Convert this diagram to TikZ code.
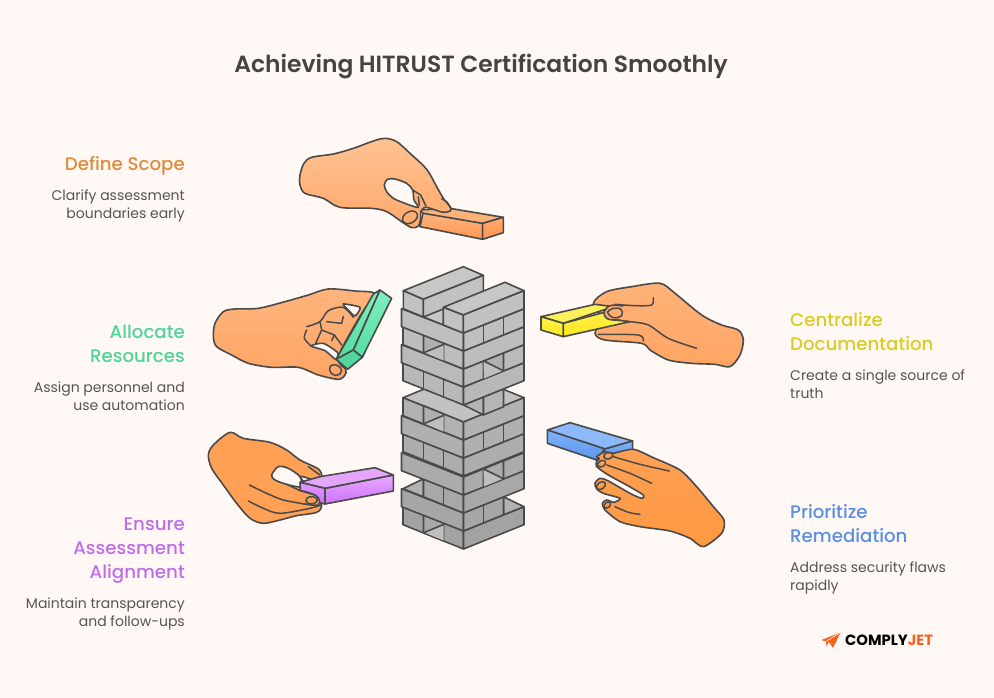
\documentclass[tikz,border=0pt]{standalone}
\usepackage{fontspec}
\setmainfont{Poppins}
\newfontfamily\titlefam{Poppins SemiBold}
\newfontfamily\headfam{Poppins Medium}
\definecolor{bgc}{HTML}{FFF8F4}
\definecolor{ink}{HTML}{4A4A4A}
\definecolor{titlec}{HTML}{444444}
\definecolor{descc}{HTML}{555555}
\definecolor{cOrange}{HTML}{E08A3E}
\definecolor{cGreen}{HTML}{4FD49C}
\definecolor{cPurple}{HTML}{C26CE8}
\definecolor{cYellow}{HTML}{DCCB22}
\definecolor{cBlue}{HTML}{5A8FE2}
\definecolor{logoO}{HTML}{F4631E}
\definecolor{orA}{HTML}{FEB680}
\definecolor{orB}{HTML}{FF9650}
\definecolor{orT}{HTML}{FDB27A}
\definecolor{orC}{HTML}{FFAA6E}
\definecolor{skinA}{HTML}{FFC292}
\definecolor{skinB}{HTML}{FFA86A}
\definecolor{skinC}{HTML}{FFB47D}
\definecolor{skinD}{HTML}{FFA564}
\definecolor{skinE}{HTML}{FFA055}
\definecolor{skinF}{HTML}{FFB278}
\definecolor{skinG}{HTML}{FFAC6E}
\definecolor{skinH}{HTML}{FF9841}
\definecolor{grA}{HTML}{80F0C0}
\definecolor{grB}{HTML}{55DCA5}
\definecolor{grC}{HTML}{50D7A0}
\definecolor{puA}{HTML}{E8AAFF}
\definecolor{puB}{HTML}{CD70FF}
\definecolor{puC}{HTML}{E4A5FA}
\definecolor{puD}{HTML}{E19BFF}
\definecolor{yeA}{HTML}{FFF046}
\definecolor{yeB}{HTML}{FFE81E}
\definecolor{yeC}{HTML}{FFF05A}
\definecolor{blA}{HTML}{82B2FA}
\definecolor{blB}{HTML}{5A96F0}
\definecolor{blC}{HTML}{8CB9FA}
\tikzset{
  edgeln/.style={draw=ink,line width=1.6pt,line join=round,line cap=round},
  detail/.style={draw=ink,line width=1.5pt,line join=round,line cap=round},
  headl/.style={inner sep=0pt,font=\headfam\fontsize{18.2}{24}\selectfont},
  descl/.style={inner sep=0pt,text=descc,font=\fontsize{14}{18}\selectfont},
  zoomed/.style={x=0.33333pt,y=-0.33333pt},
  hole/.style={edgeln,fill=bgc}
}
% left face, right face: #1 front top y, #2 shade
\newcommand{\leftBand}[2]{\filldraw[edgeln,fill=black!#2] (401.5,{#1-24.3}) -- (463.5,#1) -- (463.5,{#1+18}) -- (401.5,{#1-6.3}) -- cycle;}
\newcommand{\rightBand}[2]{\filldraw[edgeln,fill=black!#2] (463.5,#1) -- (524,{#1-24.3}) -- (524,{#1-6.3}) -- (463.5,{#1+18}) -- cycle;}
\newcommand{\leftEnds}[2]{\filldraw[edgeln,fill=black!#2] (403,{#1-24.3}) -- (463.5,#1) -- (463.5,{#1+18}) -- (403,{#1-6.3}) -- cycle;
  \draw[edgeln] (423.5,{#1-16.2}) -- ++(0,18) (443.5,{#1-8.1}) -- ++(0,18);}
\newcommand{\rightEnds}[2]{\filldraw[edgeln,fill=black!#2] (463.5,#1) -- (524,{#1-24.3}) -- (524,{#1-6.3}) -- (463.5,{#1+18}) -- cycle;
  \draw[edgeln] (483.5,{#1-8.1}) -- ++(0,18) (503.5,{#1-16.2}) -- ++(0,18);}
\newcommand{\leftGap}[2]{\filldraw[edgeln,fill=black!#2] (423.5,{#1-16.2}) -- (443.5,{#1-8.1}) -- (443.5,{#1+9.9}) -- (423.5,{#1+1.8}) -- cycle;
  \fill[black!25] (423.5,{#1+1.2}) -- (443.5,{#1-6.5}) -- (443.5,{#1+9.5}) -- cycle;
  \draw[edgeln] (423.5,{#1+1.8}) -- (443.5,{#1-6.5});}
\newcommand{\rightGap}[2]{\filldraw[edgeln,fill=black!#2] (483.5,{#1-8.1}) -- (503.5,{#1-16.2}) -- (503.5,{#1+1.8}) -- (483.5,{#1+9.9}) -- cycle;
  \fill[black!25] (483.5,{#1-7.5}) -- (503.5,{#1+1.5}) -- (484,{#1+9.5}) -- cycle;
  \draw[edgeln] (483.5,{#1-8.1}) -- (503.5,{#1+1.8});}
\begin{document}
\begin{tikzpicture}[x=1pt,y=-1pt]
\useasboundingbox (0,0) rectangle (994,698);
\fill[bgc] (0,0) rectangle (994,698);

% ---------- tower, bottom to top
% M
\leftEnds{531}{36}\leftGap{531}{34}
\rightBand{531}{36}
% L (right third absent, its top visible)
\filldraw[edgeln,fill=black!30] (503.5,496.8) -- (524,506.7) -- (503.5,514.8) -- cycle;
\leftBand{513}{35}
\filldraw[edgeln,fill=black!35] (463.5,513) -- (503.5,496.8) -- (503.5,514.8) -- (463.5,531) -- cycle;
\draw[edgeln] (483.5,504.9) -- ++(0,18);
% K (left third absent)
\filldraw[edgeln,fill=black!30] (403,488.7) -- (423.5,478.8) -- (423.5,496.8) -- cycle;
\filldraw[edgeln,fill=black!34] (423.5,478.8) -- (463.5,495) -- (463.5,513) -- (423.5,496.8) -- cycle;
\draw[edgeln] (443.5,486.9) -- ++(0,18);
\rightBand{495}{34}
% J
\leftBand{477}{33}
\rightEnds{477}{33}\rightGap{477}{33}
% I
\leftEnds{458}{32}
\rightBand{458}{32}
% H
\leftBand{440}{31}
\rightEnds{440}{31}
% G
\filldraw[edgeln,fill=black!24] (403,397.7) -- (463.5,373) -- (524,397.7) -- (463.5,422) -- cycle;
\leftEnds{422}{30}\leftGap{422}{31}
\rightBand{422}{30}
% F (recessed)
\filldraw[edgeln,fill=black!29] (463.5,405) -- (483.5,396.9) -- (483.5,414.9) -- cycle;
\filldraw[edgeln,fill=black!29] (483.5,396.9) -- (503.5,388.8) -- (503.5,406.8) -- (483.5,414.9) -- cycle;
% E
\leftEnds{387}{28}
\rightBand{387}{28}
% D
\leftBand{369}{27}
\rightEnds{369}{27}\rightGap{369}{31}
% C
\leftEnds{351}{26}\leftGap{351}{31}
\rightBand{351}{26}
% B
\filldraw[edgeln,fill=black!22] (423.3,317) -- (443.3,307) -- (443.3,325) -- cycle;
\leftBand{333}{25}
\rightEnds{333}{25}
% A
\filldraw[edgeln,fill=black!22] (403.3,290.7) -- (463.3,266.7) -- (483.3,275.3) -- (423.3,299.3) -- cycle;
\filldraw[edgeln,fill=black!24] (403.3,290.7) -- (423.3,299.3) -- (423.3,317) -- (403.3,308.7) -- cycle;
\filldraw[edgeln,fill=black!24] (423.3,299.3) -- (483.3,275.3) -- (483.3,293) -- (423.3,317) -- cycle;
\filldraw[edgeln,fill=black!22] (443.3,307.3) -- (505,282.3) -- (524,290.7) -- (463.3,315) -- cycle;
\filldraw[edgeln,fill=black!24] (443.3,307.3) -- (463.3,315) -- (463.3,333) -- (443.3,325) -- cycle;
\filldraw[edgeln,fill=black!24] (463.3,315) -- (524,290.7) -- (524,308.7) -- (463.3,333) -- cycle;

% ---------- Define Scope hand
\begin{scope}[shift={(290,130)},zoomed]
\path[edgeln,top color=orA,bottom color=orB] (400,245) -- (578,280) -- (578,328) -- (390,290) -- cycle;
\filldraw[edgeln,fill=orT] (385,240) -- (480,235) -- (640,262) -- (578,280) -- (400,250) -- cycle;
\path[edgeln,top color=orC,bottom color=orB] (578,280) -- (640,262) -- (640,308) -- (578,328) -- cycle;
\path[edgeln,top color=skinA,bottom color=skinB] plot[smooth cycle,tension=0.55] coordinates {(30,135) (42,100) (65,82) (130,72) (190,55) (250,33) (285,25) (320,35) (360,70) (410,118) (440,170) (462,208) (482,232) (480,243) (460,247) (430,238) (405,232) (392,245) (392,265) (385,288) (365,293) (335,275) (290,245) (245,235) (150,232) (100,205) (45,190) (30,165)};
\filldraw[hole] plot[smooth cycle,tension=0.5] coordinates {(283,165) (292,148) (315,147) (350,160) (368,180) (372,210) (385,232) (350,222) (310,205) (290,185)};
\draw[detail] (368,180) -- (392,195) -- (408,228);
\draw[detail] (385,200) -- (388,225);
\draw[detail] plot[smooth,tension=0.6] coordinates {(455,207) (470,215) (480,232)};
\draw[detail,rotate around={30:(360,262)}] (360,262) ellipse (24 and 17);
\end{scope}

% ---------- Allocate Resources hand
\begin{scope}[shift={(205,280)},zoomed]
\path[edgeln,top color=skinC,bottom color=skinD] plot[smooth cycle,tension=0.5] coordinates {(25,170) (30,130) (55,95) (90,87) (160,85) (240,65) (310,45) (370,27) (450,33) (510,42) (470,100) (400,230) (422,268) (420,285) (400,298) (340,285) (280,262) (200,262) (130,250) (80,225) (35,200)};
\filldraw[hole] plot[smooth cycle,tension=0.4] coordinates {(415,72) (465,82) (450,108) (430,90)};
\filldraw[hole] plot[smooth cycle,tension=0.4] coordinates {(318,198) (355,190) (398,218) (392,238) (360,212)};
\draw[detail] plot[smooth,tension=0.5] coordinates {(305,140) (345,125) (370,92) (415,82) (445,112)};
\draw[detail] plot[smooth,tension=0.5] coordinates {(305,150) (298,175) (318,198)};
\draw[detail] (345,125) -- (350,150) -- (332,190);
\draw[detail] (350,150) -- (388,165) -- (380,182);
\draw[detail] (365,125) -- (410,130) -- (415,110);
\draw[detail] (388,165) -- (410,195);
\draw[detail,rounded corners=5] (372,252) -- (410,258) -- (410,286) -- (376,286) -- cycle;
\path[edgeln,top color=grA,bottom color=grB] (505,42) -- (525,30) -- (445,210) -- (393,238) -- cycle;
\path[edgeln,top color=grA,bottom color=grB] (525,30) -- (560,55) -- (472,232) -- (445,210) -- cycle;
\filldraw[edgeln,fill=grC] (393,238) -- (445,210) -- (472,232) -- (428,268) -- cycle;
\end{scope}

% ---------- Ensure Assessment Alignment hand
\begin{scope}[shift={(200,425)},zoomed]
\path[edgeln,fill=skinE] plot[smooth cycle,tension=0.5] coordinates {(25,90) (40,60) (90,22) (130,40) (210,52) (260,75) (300,105) (355,132) (365,155) (345,165) (300,155) (340,200) (365,240) (350,262) (290,272) (240,285) (190,295) (150,280) (110,235) (70,180) (35,130)};
\filldraw[hole] plot[smooth cycle,tension=0.5] coordinates {(215,150) (235,125) (265,130) (300,155) (302,185) (260,178) (225,165)};
\draw[detail] (325,125) -- (360,150);
\path[edgeln,top color=puA,bottom color=puB] (375,190) -- (580,150) -- (580,198) -- (375,237) -- cycle;
\filldraw[edgeln,fill=puC] (300,172) -- (360,155) -- (525,128) -- (580,150) -- (375,190) -- cycle;
\path[edgeln,top color=puD,bottom color=puB] (300,172) -- (375,190) -- (375,237) -- (302,220) -- cycle;
\path[edgeln,fill=skinE] plot[smooth cycle,tension=0.5] coordinates {(300,198) (345,210) (358,225) (355,240) (320,238) (290,228)};
\fill[skinE] (250,200) -- (302,197) -- (310,238) -- (260,232) -- cycle;
\draw[detail] plot[smooth,tension=0.5] coordinates {(148,180) (200,205) (250,225) (320,238)};
\draw[detail] plot[smooth,tension=0.5] coordinates {(145,228) (190,250) (240,265) (330,250) (362,240)};
\draw[detail] (260,178) -- (300,197) -- (345,210);
\draw[detail,rounded corners=4] (316,217) -- (350,214) -- (354,234) -- (320,238) -- cycle;
\end{scope}

% ---------- Centralize Documentation hand
\begin{scope}[shift={(535,275)},zoomed]
\path[edgeln,top color=skinF,bottom color=skinD] plot[smooth cycle,tension=0.5] coordinates {(175,85) (215,50) (290,35) (375,25) (420,55) (500,120) (560,150) (610,165) (625,195) (615,240) (585,275) (540,268) (470,265) (400,255) (345,225) (320,205) (210,195) (180,175) (200,130)};
\draw[detail] plot[smooth,tension=0.5] coordinates {(355,68) (350,90) (300,92) (240,88)};
\draw[detail] plot[smooth,tension=0.5] coordinates {(190,178) (310,180) (325,198)};
\draw[detail] plot[smooth,tension=0.5] coordinates {(285,140) (340,150) (400,190) (485,220)};
\filldraw[edgeln,fill=yeC] (18,125) -- (180,88) -- (235,95) -- (85,145) -- cycle;
\path[edgeln,top color=yeA,bottom color=yeB] (18,125) -- (85,145) -- (85,185) -- (18,165) -- cycle;
\path[edgeln,top color=yeA,bottom color=yeB] (85,145) -- (215,110) -- (285,140) -- (85,185) -- cycle;
\path[edgeln,fill=skinG] plot[smooth cycle,tension=0.5] coordinates {(207,112) (225,92) (262,95) (268,125) (240,135) (215,130)};
\fill[skinG] (240,95) -- (275,95) -- (285,138) -- (250,132) -- cycle;
\draw[detail] (240,92) -- (300,92);
\draw[detail] (240,135) -- (285,140);
\draw[detail] plot[smooth cycle,tension=0.6] coordinates {(218,112) (235,100) (258,103) (260,122) (235,128)};
\end{scope}

% ---------- Prioritize Remediation hand
\begin{scope}[shift={(540,415)},zoomed]
\filldraw[edgeln,fill=blC] (22,45) -- (90,23) -- (278,78) -- (195,102) -- cycle;
\path[edgeln,top color=blA,bottom color=blB] (22,45) -- (195,102) -- (170,135) -- (22,85) -- cycle;
\path[edgeln,top color=blA,bottom color=blB] (195,102) -- (278,78) -- (278,130) -- (170,135) -- cycle;
\path[edgeln,top color=skinE,bottom color=skinH] plot[smooth cycle,tension=0.45] coordinates {(218,115) (280,103) (340,128) (420,165) (470,215) (520,275) (552,315) (545,355) (490,395) (450,370) (390,348) (300,335) (240,320) (195,285) (187,265) (200,255) (222,262) (240,250) (190,235) (170,222) (165,205) (180,190) (205,198) (270,235) (305,250) (310,240) (260,210) (205,180) (170,155) (170,140) (178,130) (170,125) (195,110)};
\draw[detail] plot[smooth,tension=0.5] coordinates {(220,125) (300,148) (388,168)};
\draw[detail] plot[smooth,tension=0.5] coordinates {(200,150) (270,175) (335,205)};
\draw[detail] plot[smooth,tension=0.5] coordinates {(225,275) (265,292) (300,298)};
\draw[detail,rotate around={15:(205,122)}] (205,122) ellipse (14 and 10);
\draw[detail,rotate around={30:(185,146)}] (185,146) ellipse (13 and 9);
\draw[detail,rotate around={35:(183,212)}] (183,212) ellipse (15 and 10);
\draw[detail,rotate around={40:(202,270)}] (202,270) ellipse (11 and 8);
\end{scope}

% ---------- labels
\node[anchor=center,font=\titlefam\fontsize{23.4}{28}\selectfont,text=titlec] (title) at (481,66.5) {Achieving HITRUST Certification Smoothly};
\node[headl,anchor=east,align=right,text=cOrange] (scopeh) at (185,166) {Define Scope};
\node[descl,anchor=east,align=right] (scoped) at (185,206) {Clarify assessment\\boundaries early};
\node[headl,anchor=east,align=right,text=cGreen] (alloch) at (185,344) {Allocate\\Resources};
\node[descl,anchor=east,align=right] (allocd) at (185,396) {Assign personnel and\\use automation};
\node[headl,anchor=east,align=right,text=cPurple] (ensureh) at (185,551) {Ensure\\Assessment\\Alignment};
\node[descl,anchor=east,align=right] (ensured) at (185,614) {Maintain transparency\\and follow-ups};
\node[headl,anchor=west,align=left,text=cYellow] (centh) at (790,332) {Centralize\\Documentation};
\node[descl,anchor=west,align=left] (centd) at (790,384) {Create a single source of\\truth};
\node[headl,anchor=west,align=left,text=cBlue] (prioh) at (790,524) {Prioritize\\Remediation};
\node[descl,anchor=west,align=left] (priod) at (790,578) {Address security flaws\\rapidly};

% ---------- logo
\fill[logoO] (821.5,640) -- (840.5,632.5) -- (833,648) -- (829,642) -- (826.5,646) -- (826,641.5) -- cycle;
\draw[white,line width=0.5pt] (826,641.5) -- (840,632.8);
\node[anchor=west,inner sep=0pt,font=\fontsize{14.8}{15}\selectfont\bfseries] (logo) at (845,640) {COMPLY\textcolor{logoO}{JET}};
\end{tikzpicture}
\end{document}
